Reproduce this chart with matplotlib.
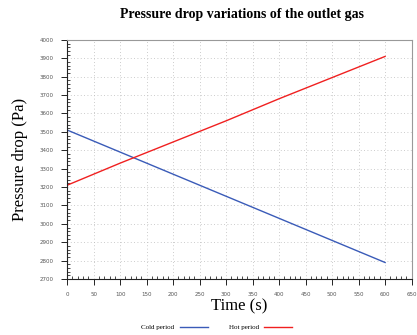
import matplotlib
matplotlib.use("Agg")
import matplotlib.pyplot as plt
from matplotlib.ticker import MultipleLocator

time_s = [0, 100, 200, 300, 400, 500, 600]
cold_period = [3510, 3390, 3270, 3150, 3030, 2910, 2790]
hot_period = [3210, 3330, 3445, 3560, 3680, 3795, 3910]
x_ticks = list(range(0, 651, 50))
y_ticks = list(range(2700, 4001, 100))

fig = plt.figure(figsize=(4.17, 3.35), dpi=100)
ax = fig.add_axes([0.161, 0.167, 0.826, 0.714])

ax.plot(time_s, cold_period, color="#3a5bb8", lw=1.0, label="Cold period")
ax.plot(time_s, hot_period, color="#f02020", lw=1.0, label="Hot period")

ax.set_xlim(0, 650)
ax.set_ylim(2700, 4000)
ax.set_xticks(x_ticks)
ax.set_yticks(y_ticks)
ax.xaxis.set_minor_locator(MultipleLocator(10))
ax.yaxis.set_minor_locator(MultipleLocator(20))
ax.tick_params(axis="both", which="major", labelsize=4, labelcolor="#555555",
               direction="out", length=4, width=0.6, pad=6)
ax.tick_params(axis="x", which="major", pad=5)
ax.tick_params(axis="both", which="minor", direction="in", length=2, width=0.5)
ax.grid(True, which="major", linestyle=(0, (1, 3)), color="#bbbbbb", lw=0.6)

for s in ["top", "right"]:
    ax.spines[s].set_color("#999999")
    ax.spines[s].set_linewidth(0.8)
for s in ["left", "bottom"]:
    ax.spines[s].set_color("#222222")
    ax.spines[s].set_linewidth(0.8)

ax.set_xlabel("Time (s)", family="Liberation Serif", fontsize=12, labelpad=1)
ax.set_ylabel("Pressure drop (Pa)", family="Liberation Serif", fontsize=12, labelpad=8)
fig.text(0.58, 0.945, "Pressure drop variations of the outlet gas",
         family="Liberation Serif", fontweight="bold", fontsize=10, ha="center")

leg = fig.legend(loc="lower center", bbox_to_anchor=(0.52, 0.0), ncol=2,
                 frameon=False, markerfirst=False, prop={"family": "Liberation Serif", "size": 5},
                 handlelength=4, columnspacing=3, borderpad=0.2)

fig.savefig("out.png", dpi=100)
